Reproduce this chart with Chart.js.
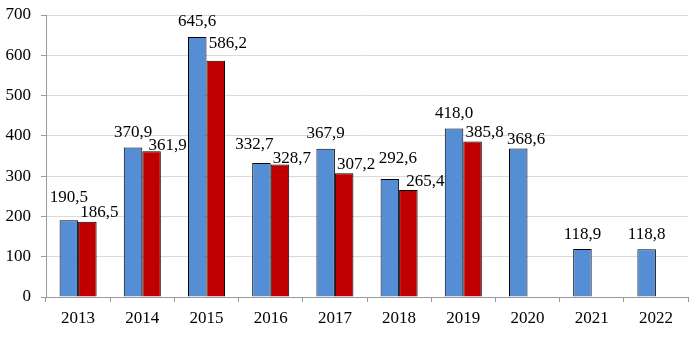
<!DOCTYPE html>
<html><head><meta charset="utf-8">
<script src="https://cdn.jsdelivr.net/npm/chart.js@4/dist/chart.umd.min.js"></script>
<style>html,body{margin:0;padding:0;background:#fff}#wrap{width:689px;height:338px}</style>
</head><body><div id="wrap"><canvas id="c"></canvas></div>
<script>
const categories = ['2013','2014','2015','2016','2017','2018','2019','2020','2021','2022'];
const seriesBlue = [190.5, 370.9, 645.6, 332.7, 367.9, 292.6, 418.0, 368.6, 118.9, 118.8];
const seriesRed = [186.5, 361.9, 586.2, 328.7, 307.2, 265.4, 385.8, null, null, null];
const yTicks = [0, 100, 200, 300, 400, 500, 600, 700];

// label placement tweaks (dataset index, category) -> [dx, extra lift]
const labelNudge = {
  '0:2013': [0, 8], '0:2016': [-7, 3], '0:2018': [8, 6], '0:2020': [8, -6],
  '1:2014': [4, -3], '1:2015': [0, 8], '1:2016': [0, -3], '1:2018': [5, 0]
};

const FONT = '"Liberation Serif", "Times New Roman", serif';

const labelPlugin = {
  id: 'valLabels',
  afterDatasetsDraw(chart) {
    const ctx = chart.ctx;
    ctx.save();
    ctx.font = '17px ' + FONT;
    ctx.fillStyle = '#000';
    ctx.textBaseline = 'middle';
    ctx.textAlign = 'center';
    chart.data.datasets.forEach((ds, di) => {
      const meta = chart.getDatasetMeta(di);
      meta.data.forEach((bar, i) => {
        const v = ds.data[i];
        if (v === null || v === undefined) return;
        const txt = v.toFixed(1).replace('.', ',');
        const n = labelNudge[di + ':' + categories[i]] || [0, 0];
        const dx = (di === 0 ? 0 : 12) + n[0];
        const dy = (di === 0 ? 15 : 9) + n[1];
        ctx.fillText(txt, bar.x + dx, bar.y - dy);
      });
    });
    ctx.restore();
  }
};

new Chart(document.getElementById('c'), {
  type: 'bar',
  data: {
    labels: categories,
    datasets: [
      { data: seriesBlue, backgroundColor: '#558ED5', borderColor: '#000', borderWidth: 1,
        categoryPercentage: 0.577, barPercentage: 1 },
      { data: seriesRed, backgroundColor: '#C00000', borderColor: '#000', borderWidth: 1,
        categoryPercentage: 0.577, barPercentage: 1 }
    ]
  },
  options: {
    responsive: true,
    maintainAspectRatio: false,
    animation: false,
    layout: { padding: { top: 15, right: 1, left: 0, bottom: 0 } },
    plugins: { legend: { display: false }, tooltip: { enabled: false } },
    scales: {
      x: {
        offset: true,
        grid: { display: true, drawOnChartArea: false, drawTicks: true, tickLength: 5, color: '#9a9a9a', offset: true },
        border: { color: '#9a9a9a' },
        ticks: { color: '#000', font: { family: FONT, size: 17 }, padding: 6 },
        afterFit(s) { s.height = 41; }
      },
      y: {
        min: 0, max: 700,
        afterBuildTicks(s) { s.ticks = yTicks.map(v => ({ value: v })); },
        grid: { color: '#dadada', tickLength: 5, tickColor: '#9a9a9a' },
        border: { color: '#9a9a9a' },
        ticks: { color: '#000', font: { family: FONT, size: 17 }, padding: 10 },
        afterFit(s) { s.width = 46; s.paddingTop = 0; }
      }
    }
  },
  plugins: [labelPlugin]
});
</script>
</body></html>
